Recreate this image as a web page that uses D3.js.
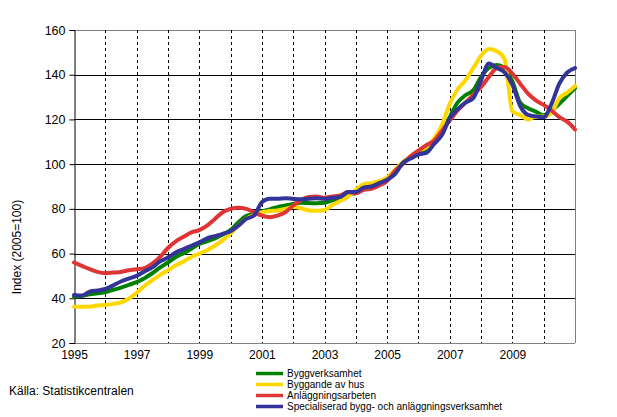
<!DOCTYPE html>
<html>
<head>
<meta charset="utf-8">
<script src="https://cdn.jsdelivr.net/npm/d3@7"></script>
<style>
  html, body { margin: 0; padding: 0; background: #fff; }
  svg { display: block; font-family: Arial, "Liberation Sans", sans-serif; }
</style>
</head>
<body>
<svg id="chart" width="617" height="417"></svg>
<script>
// ---- data (quarterly index, 2005=100) ----
const quarters = d3.range(0, 65).map(i => 1995 + i / 4);

const byggverksamhet = [
  40.7, 41.0, 41.8, 42.2, 42.8, 43.8, 44.8, 46.0, 47.2, 49.0, 51.2, 53.8, 56.0, 58.5, 60.2, 62.2,
  64.3, 65.5, 66.8, 68.5, 70.5, 74.0, 76.8, 77.8, 78.8, 79.8, 80.8, 81.5, 82.2, 82.7, 82.6, 82.5,
  82.7, 83.8, 84.5, 86.8, 87.0, 89.5, 90.5, 91.8, 93.2, 96.5, 100.5, 103.0, 104.8, 106.0, 109.5, 114.0,
  121.0, 127.5, 130.8, 133.0, 139.0, 143.0, 144.3, 143.0, 137.0, 127.5, 125.0, 123.5, 121.8, 124.0, 127.0, 130.5,
  134.0
];
const byggandeAvHus = [
  36.2, 36.2, 36.2, 36.8, 37.0, 37.5, 38.2, 39.8, 42.5, 45.5, 48.0, 50.5, 52.5, 54.8, 56.5, 58.5,
  60.0, 61.5, 63.5, 66.0, 69.0, 72.5, 75.5, 77.3, 78.5, 79.0, 79.3, 80.0, 80.8, 80.3, 79.3, 79.2,
  79.5, 81.7, 83.5, 85.5, 88.5, 91.0, 91.5, 92.5, 94.0, 97.5, 101.0, 103.5, 106.0, 107.5, 111.5, 117.5,
  127.0, 133.5, 137.5, 143.0, 148.5, 151.5, 150.5, 147.0, 123.5, 122.0, 120.0, 121.3, 121.3, 123.0, 129.5, 132.0,
  135.0
];
const anlaggningsarbeten = [
  56.0, 54.5, 53.0, 51.8, 51.2, 51.5, 51.8, 52.5, 53.0, 53.5, 55.5, 58.5, 62.5, 65.5, 67.5, 69.5,
  70.5, 72.5, 75.5, 78.5, 80.0, 80.5, 80.0, 78.5, 77.0, 76.3, 77.0, 78.5, 81.5, 84.0, 85.3, 85.5,
  85.0, 85.5, 86.0, 87.5, 87.0, 88.5, 89.0, 90.5, 92.5, 97.0, 100.0, 103.5, 106.0, 108.5, 110.5, 115.0,
  119.5, 124.0, 127.5, 131.0, 134.5, 139.0, 143.0, 143.5, 140.5, 136.0, 131.5, 128.5, 126.5, 124.0, 121.0, 119.0,
  115.5
];
const specialiserad = [
  41.5, 41.2, 43.0, 43.5, 44.2, 45.8, 47.5, 48.8, 50.0, 52.0, 53.8, 56.5, 58.2, 60.5, 62.0, 63.5,
  65.0, 66.8, 67.8, 68.8, 70.0, 72.5, 75.5, 77.0, 83.0, 84.5, 84.5, 84.8, 84.5, 84.3, 84.5, 84.7,
  84.5, 85.0, 85.3, 87.5, 87.5, 89.5, 90.0, 91.5, 93.0, 95.5, 100.5, 102.5, 104.3, 105.0, 109.0, 113.0,
  120.5, 124.5, 127.5, 129.5, 137.5, 145.0, 143.0, 141.0, 135.5, 126.0, 122.0, 121.3, 121.0, 127.0, 136.0, 141.0,
  143.0
];

const seriesNames = ["Byggverksamhet", "Byggande av hus", "Anläggningsarbeten", "Specialiserad bygg- och anläggningsverksamhet"];
const seriesColors = ["#008000", "#FFD700", "#E03535", "#333399"];
const seriesValues = [byggverksamhet, byggandeAvHus, anlaggningsarbeten, specialiserad];

const yTicks = [20, 40, 60, 80, 100, 120, 140, 160];
const xGridYears = d3.range(1996, 2011);
const xTickLabels = ["1995", "1997", "1999", "2001", "2003", "2005", "2007", "2009"];
const yTitle = "Index (2005=100)";
const sourceText = "Källa: Statistikcentralen";

// ---- layout ----
const svg = d3.select("#chart");
const x = d3.scaleLinear().domain([1995, 2011]).range([74, 575]);
const y = d3.scaleLinear().domain([20, 160]).range([343, 30]);
const px = v => Math.round(v) + 0.5;

// horizontal grid lines (solid black, top/bottom grey frame)
svg.append("g").selectAll("line").data(yTicks).join("line")
  .attr("x1", x(1995)).attr("x2", x(2011))
  .attr("y1", d => px(y(d))).attr("y2", d => px(y(d)))
  .attr("stroke", d => (d === 20 || d === 160) ? "#808080" : "#000")
  .attr("stroke-width", 1);

// vertical dashed year lines
svg.append("g").selectAll("line").data(xGridYears).join("line")
  .attr("x1", d => px(x(d))).attr("x2", d => px(x(d)))
  .attr("y1", y(160)).attr("y2", y(20))
  .attr("stroke", "#000").attr("stroke-width", 1)
  .attr("stroke-dasharray", "3,3");

// right frame
svg.append("line")
  .attr("x1", px(x(2011))).attr("x2", px(x(2011)))
  .attr("y1", y(160)).attr("y2", y(20))
  .attr("stroke", "#808080");

// y axis
const yAxis = d3.axisLeft(y).tickValues(yTicks).tickSize(5).tickPadding(4);
const gy = svg.append("g").attr("transform", `translate(${px(x(1995))},0)`).call(yAxis);
gy.select(".domain").attr("stroke", "#000");
gy.selectAll(".tick line").attr("stroke", "#000");
gy.selectAll(".tick text").attr("font-size", "12.5px").attr("fill", "#000")
  .attr("font-family", "Arial, 'Liberation Sans', sans-serif");

// x axis labels
const xAxis = d3.axisBottom(x).tickValues(xTickLabels.map(Number))
  .tickFormat(d => String(d)).tickSize(0).tickPadding(7);
const gx = svg.append("g").attr("transform", `translate(0,${y(20)})`).call(xAxis);
gx.select(".domain").remove();
gx.selectAll(".tick text").attr("font-size", "12px").attr("fill", "#000")
  .attr("font-family", "Arial, 'Liberation Sans', sans-serif");

// y title
svg.append("text")
  .attr("transform", `translate(21,247) rotate(-90)`)
  .attr("text-anchor", "middle")
  .attr("font-size", "12px")
  .attr("fill", "#000")
  .text(yTitle);

// lines
const line = d3.line()
  .x((d, i) => x(quarters[i]))
  .y(d => y(d))
  .curve(d3.curveMonotoneX);

svg.append("g").selectAll("path").data(seriesValues).join("path")
  .attr("d", d => line(d))
  .attr("fill", "none")
  .attr("stroke", (d, i) => seriesColors[i])
  .attr("stroke-width", 4)
  .attr("stroke-linejoin", "round")
  .attr("stroke-linecap", "round");

// legend
const legend = svg.append("g").selectAll("g").data(seriesNames).join("g")
  .attr("transform", (d, i) => `translate(256,${373.5 + i * 11})`);
legend.append("line")
  .attr("x1", 0).attr("x2", 27).attr("y1", 0).attr("y2", 0)
  .attr("stroke", (d, i) => seriesColors[i]).attr("stroke-width", 3.5);
legend.append("text")
  .attr("x", 31).attr("y", 0).attr("dy", "0.35em")
  .attr("font-size", "10px").attr("fill", "#000")
  .text(d => d);

// source
svg.append("text")
  .attr("x", 9).attr("y", 395)
  .attr("font-size", "12px").attr("fill", "#000")
  .text(sourceText);
</script>
</body>
</html>
